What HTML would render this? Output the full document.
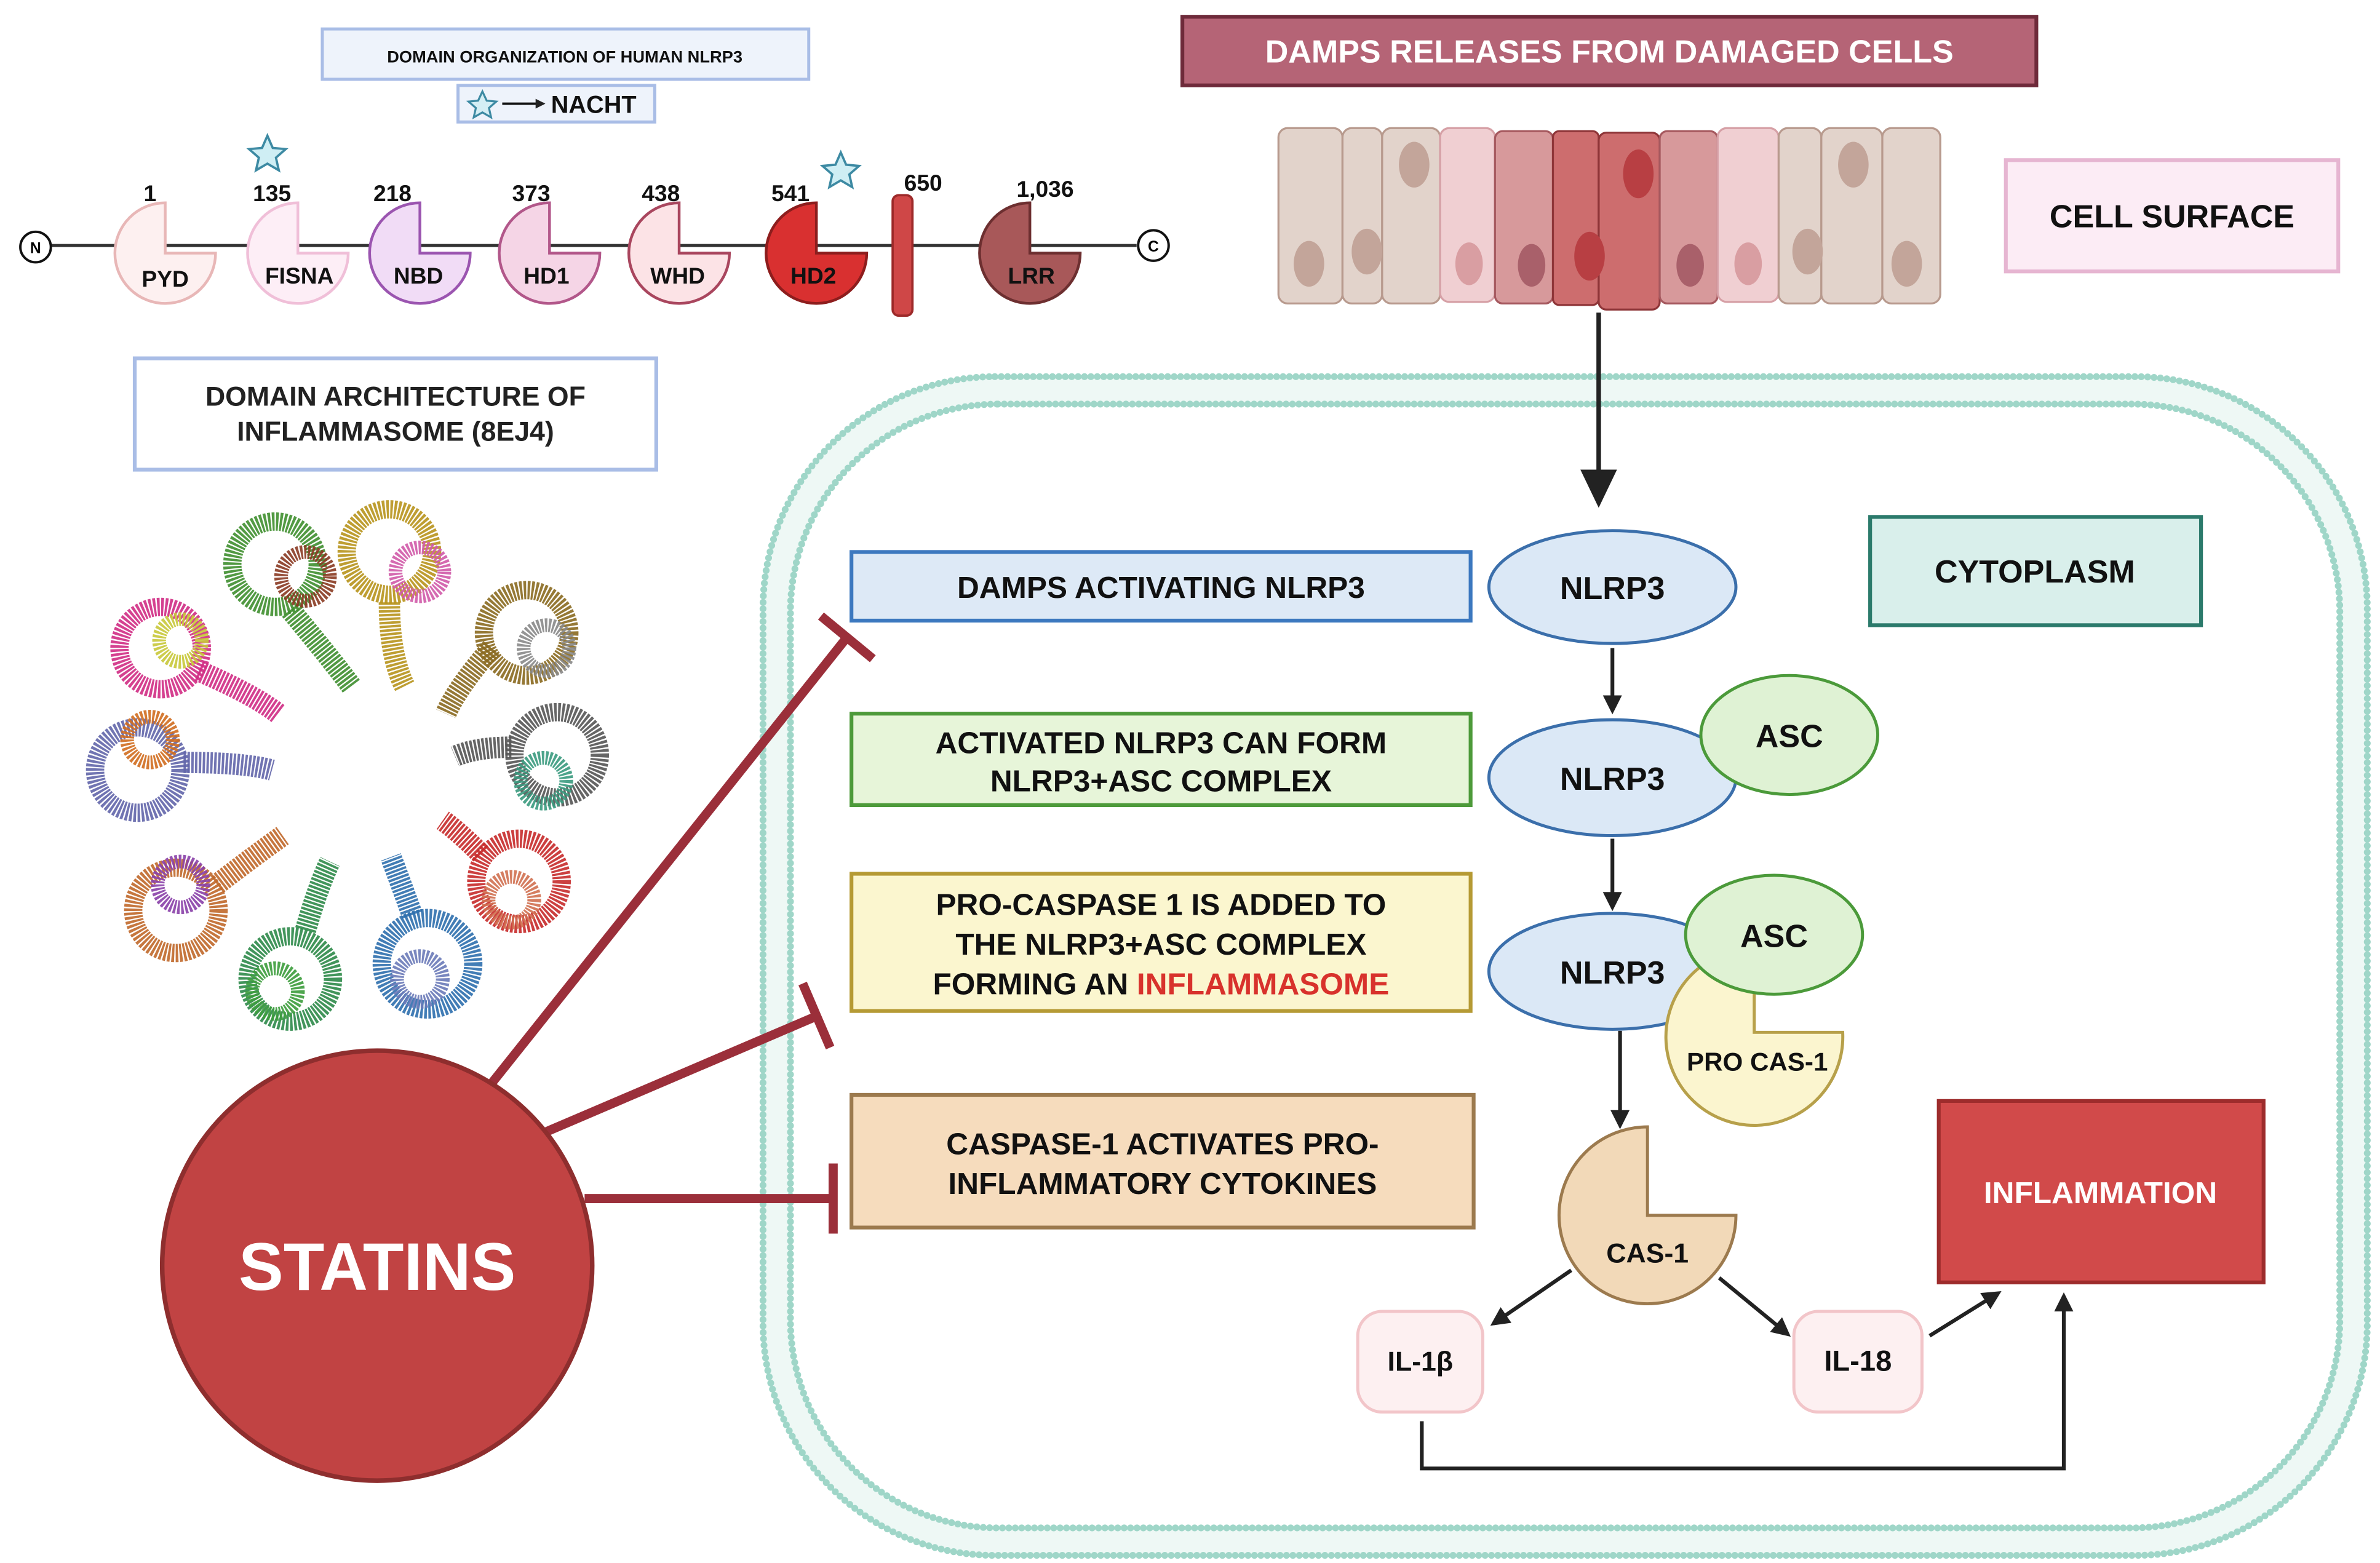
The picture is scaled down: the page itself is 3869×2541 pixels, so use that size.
<!DOCTYPE html>
<html><head><meta charset="utf-8"><style>
html,body{margin:0;padding:0;background:#fff;}
svg{display:block;}
text{font-family:"Liberation Sans",sans-serif;font-weight:bold;}
</style></head><body>
<svg width="3869" height="2541" viewBox="0 0 1560 1025" xmlns="http://www.w3.org/2000/svg">
<defs>
<marker id="ah" viewBox="0 0 10 10" refX="8" refY="5" markerWidth="5" markerHeight="5" orient="auto"><path d="M0,0 L10,5 L0,10 z" fill="#222"/></marker>
<marker id="ahb" viewBox="0 0 10 10" refX="8" refY="5" markerWidth="4" markerHeight="4" orient="auto"><path d="M0,0 L10,5 L0,10 z" fill="#222"/></marker>
</defs>
<rect width="1560" height="1025" fill="#fff"/>

<!-- membrane -->
<rect x="509" y="256" width="1034" height="755" rx="145" fill="none" stroke="#eef8f5" stroke-width="18"/>
<rect x="500" y="247" width="1052" height="773" rx="152" fill="none" stroke="#9fd6c8" stroke-width="4.5" stroke-dasharray="0 4.2" stroke-linecap="round"/>
<rect x="518" y="265" width="1016" height="737" rx="136" fill="none" stroke="#9fd6c8" stroke-width="4.5" stroke-dasharray="0 4.2" stroke-linecap="round"/>

<!-- top-left domain org -->
<rect x="211" y="19" width="319" height="33" fill="#eef3fb" stroke="#a9bde6" stroke-width="2"/>
<text x="370" y="41" font-size="11" text-anchor="middle" fill="#111">DOMAIN ORGANIZATION OF HUMAN NLRP3</text>
<rect x="300" y="56" width="129" height="24" fill="#eef3fb" stroke="#a9bde6" stroke-width="2"/>
<path d="M316,60 l2.8,6 6.3,0.6 -4.8,4.2 1.4,6.2 -5.7,-3.3 -5.7,3.3 1.4,-6.2 -4.8,-4.2 6.3,-0.6z" fill="#d4eef4" stroke="#3d8aa3" stroke-width="1.3"/>
<line x1="329" y1="68" x2="356" y2="68" stroke="#111" stroke-width="1.6" marker-end="url(#ahb)"/>
<text x="361" y="74" font-size="16" fill="#111">NACHT</text>

<!-- domain line -->
<line x1="33" y1="161" x2="745" y2="161" stroke="#333" stroke-width="2"/>
<circle cx="23" cy="162" r="10" fill="#fff" stroke="#111" stroke-width="1.6"/>
<text x="23" y="166" font-size="10" text-anchor="middle" font-weight="normal">N</text>
<circle cx="756" cy="161" r="10" fill="#fff" stroke="#111" stroke-width="1.6"/>
<text x="756" y="165" font-size="10" text-anchor="middle" font-weight="normal">C</text>

<g stroke-width="1.8">
<path d="M108,133 L108,166 L141,166 A33,33 0 1 1 108,133z" fill="#fdf0f0" stroke="#e8b7b7"/>
<path d="M195,133 L195,166 L228,166 A33,33 0 1 1 195,133z" fill="#fdeef6" stroke="#f0bfd8"/>
<path d="M275,133 L275,166 L308,166 A33,33 0 1 1 275,133z" fill="#f1dcf6" stroke="#9b55b0"/>
<path d="M360,133 L360,166 L393,166 A33,33 0 1 1 360,133z" fill="#f5d5e6" stroke="#b2578a"/>
<path d="M445,133 L445,166 L478,166 A33,33 0 1 1 445,133z" fill="#fce3e6" stroke="#a9465e"/>
<path d="M535,133 L535,166 L568,166 A33,33 0 1 1 535,133z" fill="#d93030" stroke="#8d1d1d"/>
<path d="M675,133 L675,166 L708,166 A33,33 0 1 1 675,133z" fill="#a85859" stroke="#6d2f30"/>
</g>
<rect x="585" y="128" width="13" height="79" rx="4" fill="#cf4747" stroke="#9d2a2a" stroke-width="1.5"/>
<g font-size="15" text-anchor="middle" fill="#111">
<text x="108" y="188">PYD</text><text x="196" y="186">FISNA</text><text x="274" y="186">NBD</text>
<text x="358" y="186">HD1</text><text x="444" y="186">WHD</text><text x="533" y="186">HD2</text><text x="676" y="186">LRR</text>
<text x="98" y="132">1</text><text x="178" y="132">135</text><text x="257" y="132">218</text><text x="348" y="132">373</text>
<text x="433" y="132">438</text><text x="518" y="132">541</text><text x="605" y="125">650</text><text x="685" y="129">1,036</text>
</g>
<path d="M175,89 l3.5,8 8.5,0.8 -6.4,5.6 1.9,8.3 -7.5,-4.4 -7.5,4.4 1.9,-8.3 -6.4,-5.6 8.5,-0.8z" fill="#cfeef4" stroke="#3d8aa3" stroke-width="1.5"/>
<path d="M551,100 l3.5,8 8.5,0.8 -6.4,5.6 1.9,8.3 -7.5,-4.4 -7.5,4.4 1.9,-8.3 -6.4,-5.6 8.5,-0.8z" fill="#cfeef4" stroke="#3d8aa3" stroke-width="1.5"/>

<!-- domain architecture box -->
<rect x="88" y="235" width="342" height="73" fill="#fff" stroke="#a9bde6" stroke-width="2.5"/>
<text x="259" y="266" font-size="18" text-anchor="middle" fill="#222">DOMAIN ARCHITECTURE OF</text>
<text x="259" y="289" font-size="18" text-anchor="middle" fill="#222">INFLAMMASOME (8EJ4)</text>

<!-- protein ring -->
<g fill="none" stroke-width="14" stroke-dasharray="1.6 0.9" opacity="0.9">
<path d="M190,400 Q215,430 230,450" stroke="#3f8f2f"/>
<path d="M255,395 Q255,430 265,450" stroke="#b8941c"/>
<path d="M322,425 Q300,450 292,468" stroke="#8a6a20"/>
<path d="M335,490 Q312,490 298,496" stroke="#555"/>
<path d="M315,560 Q300,545 290,538" stroke="#c72b2b"/>
<path d="M270,600 Q262,578 256,562" stroke="#2e6fae"/>
<path d="M200,610 Q208,582 216,565" stroke="#2e8a4a"/>
<path d="M142,580 Q168,560 185,548" stroke="#c0682a"/>
<path d="M120,500 Q160,500 178,505" stroke="#6266aa"/>
<path d="M130,440 Q165,455 182,468" stroke="#d02c84"/>
</g>
<g fill="none" stroke-width="12" stroke-dasharray="1.6 0.9" opacity="0.9">
<circle cx="180" cy="370" r="28" stroke="#3f8f2f"/>
<circle cx="255" cy="362" r="28" stroke="#b8941c"/>
<circle cx="345" cy="415" r="28" stroke="#8a6a20"/>
<circle cx="365" cy="495" r="28" stroke="#555"/>
<circle cx="340" cy="578" r="28" stroke="#c72b2b"/>
<circle cx="280" cy="632" r="30" stroke="#2e6fae"/>
<circle cx="190" cy="642" r="28" stroke="#2e8a4a"/>
<circle cx="115" cy="597" r="28" stroke="#c0682a"/>
<circle cx="90" cy="505" r="28" stroke="#6266aa"/>
<circle cx="105" cy="425" r="27" stroke="#d02c84"/>
</g>
<g fill="none" stroke-width="9" stroke-dasharray="1.5 0.9" opacity="0.9">
<circle cx="200" cy="378" r="16" stroke="#8a3a22"/>
<circle cx="275" cy="375" r="16" stroke="#d05aa8"/>
<circle cx="358" cy="425" r="15" stroke="#888"/>
<circle cx="356" cy="512" r="15" stroke="#3a9a7e"/>
<circle cx="335" cy="590" r="15" stroke="#d07050"/>
<circle cx="275" cy="642" r="15" stroke="#6a7ab8"/>
<circle cx="180" cy="650" r="15" stroke="#3c9c3c"/>
<circle cx="118" cy="580" r="15" stroke="#8a40a8"/>
<circle cx="98" cy="485" r="15" stroke="#d06d1f"/>
<circle cx="118" cy="420" r="14" stroke="#c8c83a"/>
</g>

<!-- DAMPS banner -->
<rect x="775" y="11" width="560" height="45" fill="#b56476" stroke="#6e2a3a" stroke-width="2.5"/>
<text x="1055" y="41" font-size="21" text-anchor="middle" fill="#fff">DAMPS RELEASES FROM DAMAGED CELLS</text>

<!-- cells -->
<g stroke-width="1.3">
<rect x="838" y="84" width="42" height="115" rx="6" fill="#e2d3cb" stroke="#b89a8e"/>
<rect x="880" y="84" width="26" height="115" rx="6" fill="#e2d3cb" stroke="#b89a8e"/>
<rect x="906" y="84" width="38" height="115" rx="6" fill="#e2d3cb" stroke="#b89a8e"/>
<rect x="944" y="84" width="36" height="114" rx="6" fill="#f0cfd2" stroke="#d6a0a6"/>
<rect x="980" y="86" width="38" height="113" rx="5" fill="#d7999b" stroke="#a5585e"/>
<rect x="1018" y="86" width="30" height="114" rx="4" fill="#cd6d6e" stroke="#8e3538"/>
<rect x="1048" y="87" width="40" height="116" rx="5" fill="#cd6d6e" stroke="#8e3538"/>
<rect x="1088" y="86" width="38" height="113" rx="5" fill="#d7999b" stroke="#a5585e"/>
<rect x="1126" y="84" width="40" height="114" rx="6" fill="#f0cfd2" stroke="#d6a0a6"/>
<rect x="1166" y="84" width="28" height="115" rx="6" fill="#e2d3cb" stroke="#b89a8e"/>
<rect x="1194" y="84" width="40" height="115" rx="6" fill="#e2d3cb" stroke="#b89a8e"/>
<rect x="1234" y="84" width="38" height="115" rx="6" fill="#e2d3cb" stroke="#b89a8e"/>
</g>
<g>
<ellipse cx="858" cy="173" rx="10" ry="15" fill="#c3a59a"/>
<ellipse cx="896" cy="165" rx="10" ry="15" fill="#c3a59a"/>
<ellipse cx="927" cy="108" rx="10" ry="15" fill="#c3a59a"/>
<ellipse cx="963" cy="173" rx="9" ry="14" fill="#d99ea2"/>
<ellipse cx="1004" cy="174" rx="9" ry="14" fill="#a9606a"/>
<ellipse cx="1042" cy="168" rx="10" ry="16" fill="#b83f43"/>
<ellipse cx="1074" cy="114" rx="10" ry="16" fill="#b83f43"/>
<ellipse cx="1108" cy="174" rx="9" ry="14" fill="#a9606a"/>
<ellipse cx="1146" cy="173" rx="9" ry="14" fill="#d99ea2"/>
<ellipse cx="1185" cy="165" rx="10" ry="15" fill="#c3a59a"/>
<ellipse cx="1215" cy="108" rx="10" ry="15" fill="#c3a59a"/>
<ellipse cx="1250" cy="173" rx="10" ry="15" fill="#c3a59a"/>
</g>

<!-- cell surface -->
<rect x="1315" y="105" width="218" height="73" fill="#fcecf5" stroke="#e6b5d1" stroke-width="2.5"/>
<text x="1424" y="149" font-size="21" text-anchor="middle" fill="#111">CELL SURFACE</text>

<!-- big arrow -->
<line x1="1048" y1="205" x2="1048" y2="312" stroke="#222" stroke-width="3"/>
<path d="M1036,308 L1060,308 L1048,333z" fill="#222"/>

<!-- text boxes -->
<rect x="558" y="362" width="406" height="45" fill="#dde9f6" stroke="#3c78bf" stroke-width="2.5"/>
<text x="761" y="392" font-size="20" text-anchor="middle" fill="#111">DAMPS ACTIVATING NLRP3</text>
<rect x="558" y="468" width="406" height="60" fill="#e7f5d9" stroke="#4d9a3a" stroke-width="2.5"/>
<text x="761" y="494" font-size="20" text-anchor="middle" fill="#111">ACTIVATED NLRP3 CAN FORM</text>
<text x="761" y="519" font-size="20" text-anchor="middle" fill="#111">NLRP3+ASC COMPLEX</text>
<rect x="558" y="573" width="406" height="90" fill="#fbf6cf" stroke="#b59a34" stroke-width="2.5"/>
<text x="761" y="600" font-size="20" text-anchor="middle" fill="#111">PRO-CASPASE 1 IS ADDED TO</text>
<text x="761" y="626" font-size="20" text-anchor="middle" fill="#111">THE NLRP3+ASC COMPLEX</text>
<text x="761" y="652" font-size="20" text-anchor="middle" fill="#111">FORMING AN <tspan fill="#d8322c">INFLAMMASOME</tspan></text>
<rect x="558" y="718" width="408" height="87" fill="#f6dcbd" stroke="#9c7a4e" stroke-width="2.5"/>
<text x="762" y="757" font-size="20" text-anchor="middle" fill="#111">CASPASE-1 ACTIVATES PRO-</text>
<text x="762" y="783" font-size="20" text-anchor="middle" fill="#111">INFLAMMATORY CYTOKINES</text>

<rect x="1226" y="339" width="217" height="71" fill="#d9efeb" stroke="#2b7a6b" stroke-width="2.5"/>
<text x="1334" y="382" font-size="21" text-anchor="middle" fill="#111">CYTOPLASM</text>

<!-- NLRP3 chain -->
<g stroke-width="2">
<ellipse cx="1057" cy="385" rx="81" ry="37" fill="#dbe8f6" stroke="#3b6fab"/>
<ellipse cx="1057" cy="510" rx="81" ry="38" fill="#dbe8f6" stroke="#3b6fab"/>
<ellipse cx="1173" cy="482" rx="58" ry="39" fill="#dff2d4" stroke="#4b9a3a"/>
<ellipse cx="1057" cy="637" rx="81" ry="38" fill="#dbe8f6" stroke="#3b6fab"/>
<path d="M1150,622 L1150,677 L1208,677 A58,58 0 1 1 1150,622z" fill="#fbf5cf" stroke="#b7a04a"/>
<ellipse cx="1163" cy="613" rx="58" ry="39" fill="#dff2d4" stroke="#4b9a3a"/>
<path d="M1080,739 L1080,797 L1138,797 A58,58 0 1 1 1080,739z" fill="#f2d9b8" stroke="#9c7a4e"/>
</g>
<g font-size="21" text-anchor="middle" fill="#111">
<text x="1057" y="393">NLRP3</text><text x="1057" y="518">NLRP3</text><text x="1173" y="490">ASC</text>
<text x="1057" y="645">NLRP3</text><text x="1163" y="621">ASC</text>
</g>
<text x="1152" y="702" font-size="17" text-anchor="middle" fill="#111">PRO CAS-1</text>
<text x="1080" y="828" font-size="18" text-anchor="middle" fill="#111">CAS-1</text>

<g stroke="#222" stroke-width="2.5" marker-end="url(#ah)">
<line x1="1057" y1="425" x2="1057" y2="466"/>
<line x1="1057" y1="550" x2="1057" y2="595"/>
<line x1="1062" y1="676" x2="1062" y2="738"/>
<line x1="1030" y1="833" x2="979" y2="868"/>
<line x1="1127" y1="838" x2="1172" y2="875"/>
<line x1="1265" y1="876" x2="1310" y2="848"/>
<polyline points="932,932 932,963 1353,963 1353,850" fill="none"/>
</g>

<rect x="890" y="860" width="82" height="66" rx="16" fill="#fdf0f1" stroke="#f2c5c9" stroke-width="2"/>
<text x="931" y="899" font-size="18" text-anchor="middle" fill="#111">IL-1β</text>
<rect x="1176" y="860" width="84" height="66" rx="16" fill="#fdf0f1" stroke="#f2c5c9" stroke-width="2"/>
<text x="1218" y="899" font-size="19" text-anchor="middle" fill="#111">IL-18</text>

<rect x="1271" y="722" width="213" height="119" fill="#d14a4a" stroke="#9d2c2c" stroke-width="2.5"/>
<text x="1377" y="789" font-size="20" text-anchor="middle" fill="#fff">INFLAMMATION</text>

<!-- statins -->
<g stroke="#9b2f3a" stroke-width="6" fill="none">
<line x1="320" y1="713" x2="555" y2="418"/>
<line x1="538" y1="404" x2="572" y2="432"/>
<line x1="356" y1="743" x2="536" y2="666"/>
<line x1="526" y1="645" x2="544" y2="687"/>
<line x1="383" y1="786" x2="546" y2="786"/>
<line x1="546" y1="763" x2="546" y2="809"/>
</g>
<circle cx="247" cy="830" r="141" fill="#c14343" stroke="#8e2e2e" stroke-width="3"/>
<text x="247" y="846" font-size="44" text-anchor="middle" fill="#fff">STATINS</text>
</svg>
</body></html>
